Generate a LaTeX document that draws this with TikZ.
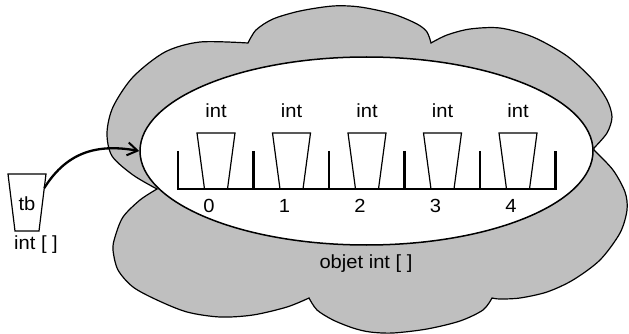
\documentclass[tikz,border=0pt]{standalone}
\usepackage{fontspec}
\setmainfont{Liberation Sans}[FakeStretch=1.06]
\usetikzlibrary{shapes.geometric,arrows.meta}
\tikzset{
  cloudfill/.style={fill=black!25, draw=black, line width=1.2},
  objell/.style={draw=black, fill=white, ellipse, line width=1.5, inner sep=0pt},
  barline/.style={line width=2.8},
  cupline/.style={line width=1.2},
  lbl/.style={font=\fontsize{19}{21}\selectfont, inner sep=0pt, anchor=base},
  ptr/.style={line width=2.3, -{Straight Barb[length=10pt,width=13pt,line width=2pt]}}
}
\begin{document}
\begin{tikzpicture}[x=1pt,y=-1pt]
\useasboundingbox (0,0) rectangle (629,334);
% cloud
\path[cloudfill]
  plot[smooth] coordinates {(157,189) (133,175) (112,156) (107,133) (113,107) (133,77) (165,52) (200,42) (248,43)}
  -- plot[smooth] coordinates {(248,43) (256,30) (273,19) (300,11) (333,6) (360,7) (393,14) (417,24) (427,32) (431,43)}
  -- plot[smooth] coordinates {(431,43) (447,35) (470,29) (500,28) (533,37) (567,56) (593,80) (607,100) (612,117) (607,133) (594,148)}
  -- plot[smooth] coordinates {(594,150) (613,170) (625,192) (627,210) (620,233) (600,260) (573,280) (547,292) (520,298) (500,299) (492,298)}
  -- plot[smooth] coordinates {(492,298) (483,310) (460,321) (427,329) (393,333) (370,332) (353,328) (333,320) (317,310) (309,298)}
  -- plot[smooth] coordinates {(309,298) (287,307) (253,315) (220,317) (187,312) (157,300) (133,287) (118,270) (113,250) (115,237) (123,217) (140,200) (157,189)}
  -- cycle;
% ellipse (the object)
\node[objell, minimum width=453, minimum height=188] (obj) at (366.5,151) {};
% array bar
\draw[barline] (178,151) -- (178,189) -- (555.5,189) -- (555.5,151);
\foreach \i in {1,...,4} {
  \draw[barline] ({178+75.5*\i},151) -- ({178+75.5*\i},189);
}
% cells
\foreach \i in {0,...,4} {
  \pgfmathsetmacro{\cx}{216+75.5*\i}
  \draw[cupline] (\cx-19,133) -- (\cx+19,133) -- (\cx+11.5,189) -- (\cx-11.5,189) -- cycle;
  \node[lbl] (t\i) at (\cx,118) {int};
  \node[lbl] (n\i) at (\cx-7,212) {\i};
}
\node[lbl] (objlbl) at (366,268) {objet int [ ]};
% variable tb
\draw[cupline] (8,174) -- (46,174) -- (39,231) -- (15,231) -- cycle;
\node[lbl] (tb) at (27,210) {tb};
\node[lbl] (tbtype) at (36,249) {int [ ]};
\coordinate (tbs) at (44.3,188);
\draw[ptr] (tbs) .. controls (68,150) and (100,144) .. (obj.west);
\end{tikzpicture}
\end{document}
